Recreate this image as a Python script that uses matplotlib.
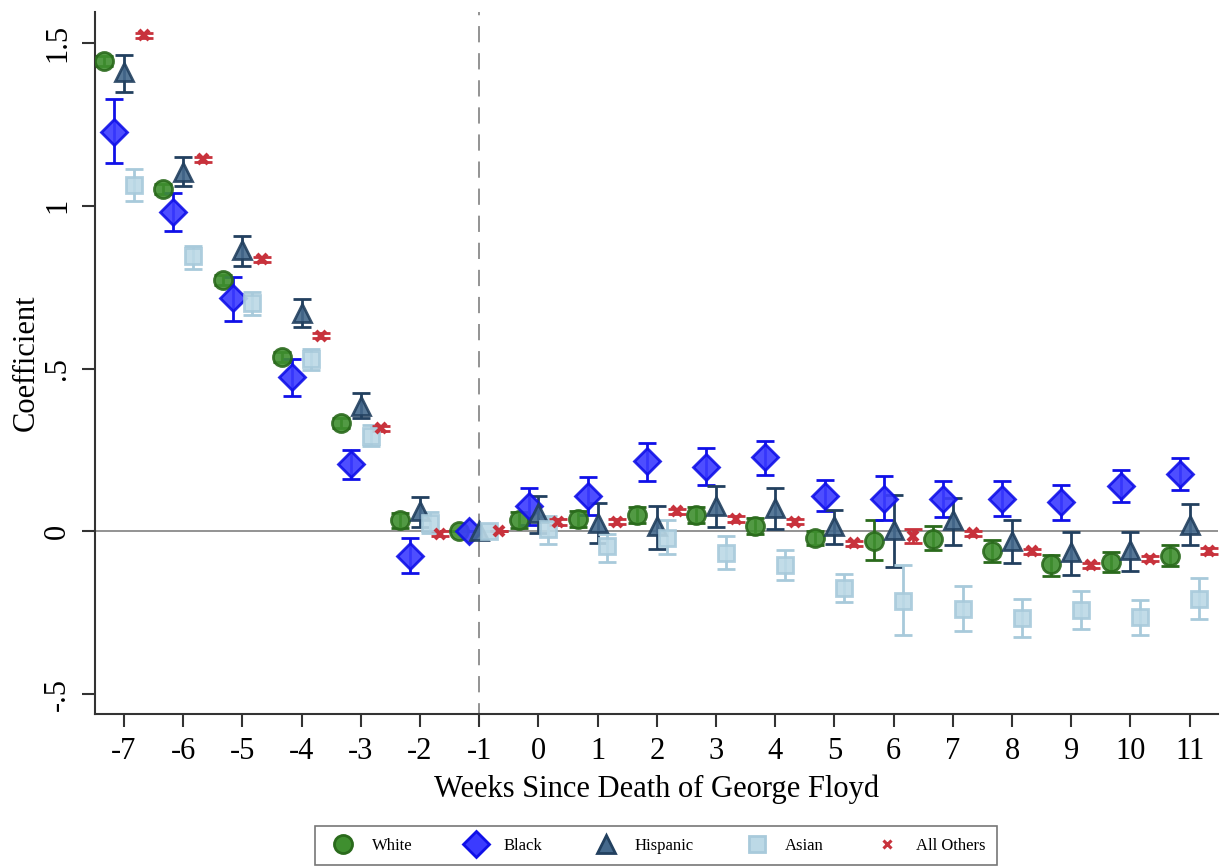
import numpy as np
import matplotlib
matplotlib.use("Agg")
import matplotlib.pyplot as plt
from matplotlib.lines import Line2D

plt.rcParams['font.family'] = ['Liberation Serif', 'DejaVu Serif']

# event-time weeks relative to George Floyd's death
weeks = list(range(-7, 12))

# point estimates by group
white = [1.443, 1.052, 0.772, 0.535, 0.333, 0.034, 0.0, 0.036, 0.039, 0.050,
         0.051, 0.016, -0.020, -0.028, -0.022, -0.061, -0.101, -0.094, -0.074]
black = [1.227, 0.980, 0.715, 0.473, 0.208, -0.074, 0.0, 0.077, 0.110, 0.215,
         0.199, 0.228, 0.110, 0.100, 0.100, 0.100, 0.090, 0.140, 0.177]
hispanic = [1.411, 1.102, 0.864, 0.670, 0.386, 0.064, 0.0, 0.057, 0.027, 0.016,
            0.078, 0.073, 0.016, 0.005, 0.036, -0.028, -0.063, -0.058, 0.021]
asian = [1.063, 0.844, 0.700, 0.528, 0.294, 0.027, 0.0, 0.008, -0.045, -0.019,
         -0.065, -0.102, -0.173, -0.212, -0.238, -0.265, -0.240, -0.263, -0.206]
others = [1.522, 1.142, 0.835, 0.601, 0.317, -0.007, 0.0, 0.029, 0.030, 0.062,
          0.038, 0.030, -0.036, -0.014, -0.005, -0.061, -0.104, -0.084, -0.060]

# 95% CI bounds
white_lo = [1.428, 1.037, 0.757, 0.520, 0.318, 0.012, 0.0, 0.012, 0.015, 0.025,
            0.026, -0.008, -0.040, -0.089, -0.058, -0.094, -0.138, -0.125, -0.106]
white_hi = [1.458, 1.067, 0.787, 0.550, 0.348, 0.056, 0.0, 0.060, 0.063, 0.075,
            0.076, 0.040, 0.000, 0.034, 0.016, -0.026, -0.071, -0.063, -0.041]
black_lo = [1.130, 0.922, 0.647, 0.417, 0.161, -0.127, 0.0, 0.021, 0.052, 0.156,
            0.143, 0.174, 0.062, 0.034, 0.044, 0.049, 0.036, 0.090, 0.128]
black_hi = [1.326, 1.040, 0.780, 0.530, 0.251, -0.019, 0.0, 0.133, 0.167, 0.273,
            0.256, 0.279, 0.159, 0.169, 0.154, 0.154, 0.144, 0.189, 0.226]
hispanic_lo = [1.350, 1.059, 0.814, 0.627, 0.348, 0.015, 0.0, -0.004, -0.035, -0.055,
               0.015, 0.008, -0.038, -0.110, -0.041, -0.096, -0.133, -0.122, -0.043]
hispanic_hi = [1.462, 1.148, 0.908, 0.712, 0.425, 0.107, 0.0, 0.110, 0.087, 0.079,
               0.140, 0.132, 0.067, 0.113, 0.102, 0.036, -0.002, -0.002, 0.083]
asian_lo = [1.014, 0.806, 0.665, 0.495, 0.262, -0.005, 0.0, -0.038, -0.094, -0.070,
            -0.114, -0.150, -0.215, -0.319, -0.304, -0.324, -0.298, -0.319, -0.270]
asian_hi = [1.113, 0.877, 0.735, 0.560, 0.326, 0.060, 0.0, 0.049, -0.009, 0.034,
            -0.014, -0.056, -0.130, -0.104, -0.168, -0.206, -0.183, -0.209, -0.142]
others_lo = [1.514, 1.134, 0.827, 0.593, 0.309, -0.015, 0.0, 0.021, 0.022, 0.054,
             0.030, 0.022, -0.044, -0.036, -0.013, -0.069, -0.112, -0.092, -0.068]
others_hi = [1.530, 1.150, 0.843, 0.609, 0.325, 0.001, 0.0, 0.037, 0.038, 0.070,
             0.046, 0.038, -0.028, 0.008, 0.003, -0.053, -0.096, -0.076, -0.052]

labels = ["White", "Black", "Hispanic", "Asian", "All Others"]

groups = [
    # est, lo, hi, offset, marker, size, face, edge
    (white, white_lo, white_hi, -1/3, 'o', 13, '#3f8f2f', '#2a6a1c'),
    (black, black_lo, black_hi, -1/6, 'D', 13.5, '#3b3bff', '#1010e8'),
    (hispanic, hispanic_lo, hispanic_hi, 0.0, '^', 13, '#45698c', '#22405f'),
    (asian, asian_lo, asian_hi, 1/6, 's', 12, '#bcd9e6', '#a8cadb'),
    (others, others_lo, others_hi, 1/3, 'x', 7, '#c8323c', '#c8323c'),
]

fig = plt.figure(figsize=(12.26, 8.67), dpi=100)
ax = fig.add_axes([0.0775, 0.1765, 0.916, 0.81])

ax.axhline(0, color='#8a8a8a', lw=1.3, zorder=1)
ax.axvline(-1, color='#8a8a8a', lw=1.3, ls=(3, (9, 6)), zorder=1)

x = np.array(weeks, dtype=float)
handles = []
for (est, lo, hi, off, mk, ms, fc, ec), lab in zip(groups, labels):
    est = np.array(est)
    yerr = [est - np.array(lo), np.array(hi) - est]
    ax.errorbar(x + off, est, yerr=yerr, fmt='none', ecolor=ec, elinewidth=2,
                capsize=6.5, capthick=2, zorder=2)
    if mk == 'x':
        ax.plot(x + off, est, ls='none', marker=mk, ms=ms, mew=3, color=fc, zorder=3)
        handles.append(Line2D([], [], ls='none', marker=mk, ms=6, mew=2.2, color=fc))
    else:
        ax.plot(x + off, est, ls='none', marker=mk, ms=ms, mfc=fc, mec=ec, mew=2,
                alpha=0.9, zorder=3)
        handles.append(Line2D([], [], ls='none', marker=mk, ms=ms, mfc=fc, mec=ec, mew=2))

ax.set_xlim(-7.49, 11.48)
ax.set_ylim(-0.56, 1.595)
ax.set_xticks(weeks)
ax.set_xticklabels([str(w) for w in weeks])
ax.set_yticks([-0.5, 0, 0.5, 1, 1.5])
ax.set_yticklabels(["-.5", "0", ".5", "1", "1.5"], rotation=90, va='center')

for s in ['top', 'right']:
    ax.spines[s].set_visible(False)
for s in ['left', 'bottom']:
    ax.spines[s].set_color('#333333')
    ax.spines[s].set_linewidth(1.5)
ax.tick_params(axis='both', direction='out', length=9.5, width=1.5, color='#333333',
               labelsize=22, pad=7)

ax.set_xlabel("Weeks Since Death of George Floyd", fontsize=22, labelpad=6)
ax.set_ylabel("Coefficient", fontsize=22, labelpad=2)

leg = fig.legend(handles, labels, loc='center', bbox_to_anchor=(0.535, 0.0245),
                 ncol=5, fontsize=12, frameon=True, fancybox=False,
                 edgecolor='#555555', handletextpad=0.7, columnspacing=2.8,
                 borderpad=0.7)
leg.get_frame().set_linewidth(1.2)

fig.savefig("out.png", dpi=100)
